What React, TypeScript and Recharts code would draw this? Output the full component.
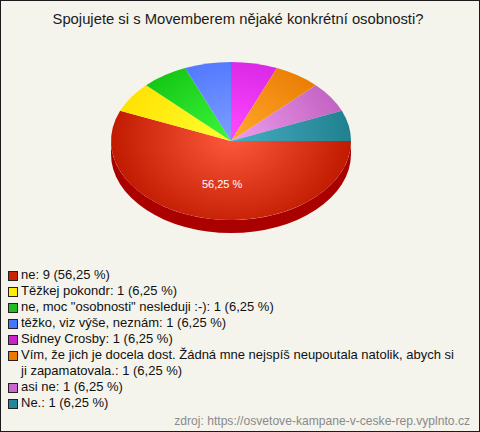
import { PieChart, Pie, Cell, Legend } from 'recharts';

const categories = [
  'ne',
  'Těžkej pokondr',
  'ne, moc "osobnosti" nesleduji :-)',
  'těžko, viz výše, neznám',
  'Sidney Crosby',
  'Vím, že jich je docela dost. Žádná mne nejspíš neupoutala natolik, abych si ji zapamatovala.',
  'asi ne',
  'Ne.',
];
const counts = [9, 1, 1, 1, 1, 1, 1, 1];
const percents = ['56,25', '6,25', '6,25', '6,25', '6,25', '6,25', '6,25', '6,25'];

// light (center) / dark (edge) / legend swatch
const colors = [
  { light: '#ff5a3c', dark: '#c01a00', flat: '#cc2200' },
  { light: '#ffff30', dark: '#ffe000', flat: '#ffee00' },
  { light: '#3af53a', dark: '#10c010', flat: '#22bb22' },
  { light: '#7c9cff', dark: '#4870ff', flat: '#4477ff' },
  { light: '#ff48ff', dark: '#d020e0', flat: '#cc22cc' },
  { light: '#ffa82a', dark: '#e87800', flat: '#ee7700' },
  { light: '#ee9cee', dark: '#c060c0', flat: '#cc66cc' },
  { light: '#48aec4', dark: '#20808f', flat: '#228899' },
];

const data = categories.map((name, i) => ({ name, value: counts[i], pct: percents[i], idx: i }));

const CX = 230;
const CY = 140;
const RX = 120;
const SQUASH = 0.658;
const DEPTH = 13;

const rad = (a: number) => (a * Math.PI) / 180;

function EllipseSector(props: any) {
  const { cx, cy, outerRadius, startAngle, endAngle, payload } = props;
  const i = payload?.idx ?? props.idx ?? 0;
  const c = colors[i];
  const rx = outerRadius;
  const ry = outerRadius * SQUASH;
  const pt = (a: number, dy = 0) =>
    `${cx + rx * Math.cos(rad(a))},${cy - ry * Math.sin(rad(a)) + dy}`;
  const large = Math.abs(endAngle - startAngle) > 180 ? 1 : 0;
  const top = `M${cx},${cy} L${pt(startAngle)} A${rx},${ry} 0 ${large} 1 ${pt(endAngle)} Z`;

  // side wall for the part of the slice in the front half
  const a1 = Math.min(startAngle, 0);
  const a2 = Math.max(endAngle, -180);
  let side = null;
  if (a1 > a2) {
    const d = `M${pt(a1)} A${rx},${ry} 0 0 1 ${pt(a2)} L${pt(a2, DEPTH)} A${rx},${ry} 0 0 0 ${pt(a1, DEPTH)} Z`;
    side = <path d={d} fill="#aa0000" stroke="none" />;
  }
  const gid = `pieGrad${i}`;
  return (
    <g>
      <defs>
        <radialGradient id={gid} gradientUnits="userSpaceOnUse" cx={cx} cy={cy - 6} r={rx}
          gradientTransform={`translate(0 ${cy}) scale(1 ${SQUASH + 0.15}) translate(0 ${-cy})`}>
          <stop offset="0%" stopColor={c.light} />
          <stop offset="100%" stopColor={c.dark} />
        </radialGradient>
      </defs>
      {side}
      <path d={top} fill={`url(#${gid})`} stroke="none" />
    </g>
  );
}

function renderLabel(props: any) {
  const { cx, cy, outerRadius, midAngle, payload } = props;
  if (!payload || payload.value < 3) return null;
  const f = 0.55;
  const x = cx + outerRadius * f * Math.cos(rad(midAngle)) + 4;
  const y = cy - outerRadius * SQUASH * f * Math.sin(rad(midAngle));
  return (
    <text x={x} y={y} fill="#ffffff" fontSize={11} textAnchor="middle" dominantBaseline="central"
      fontFamily="'Liberation Sans', Arial, sans-serif">
      {payload.pct} %
    </text>
  );
}

function renderLegend() {
  return (
    <div style={{ fontFamily: "'Liberation Sans', Arial, sans-serif", fontSize: 13, lineHeight: '16px', color: '#111', textAlign: 'left' }}>
      {data.map((d, i) => (
        <div key={i} style={{ display: 'flex', alignItems: 'flex-start' }}>
          <span style={{
            display: 'inline-block', width: 8, height: 8, marginTop: 4, marginRight: 3, flexShrink: 0,
            background: colors[i].flat, border: '1px solid #222',
          }} />
          <span style={{ width: 440 }}>{`${d.name}: ${d.value} (${d.pct} %)`}</span>
        </div>
      ))}
    </div>
  );
}

export default function App() {
  return (
    <div style={{
      position: 'fixed', left: 0, top: 0, width: 480, height: 432, boxSizing: 'border-box',
      border: '1px solid #1a1a1a', background: '#f4f3ec', overflow: 'hidden',
    }}>
      <div style={{
        position: 'absolute', left: 0, top: 10, width: 474, textAlign: 'center',
        fontFamily: "'Liberation Sans', Arial, sans-serif", fontSize: 14.8, color: '#1a1a1a',
      }}>
        Spojujete si s Movemberem nějaké konkrétní osobnosti?
      </div>
      <PieChart width={478} height={430} margin={{ top: 0, right: 0, bottom: 0, left: 0 }}
        style={{ position: 'absolute', left: 0, top: 0 }}>
        <Pie
          data={data}
          dataKey="value"
          nameKey="name"
          cx={CX}
          cy={CY}
          outerRadius={RX}
          startAngle={0}
          endAngle={-360}
          shape={EllipseSector}
          activeShape={EllipseSector}
          inactiveShape={EllipseSector}
          label={renderLabel}
          labelLine={false}
          isAnimationActive={false}
        >
          {data.map((_, i) => (
            <Cell key={i} fill={colors[i].flat} />
          ))}
        </Pie>
        <Legend
          layout="horizontal"
          verticalAlign="bottom"
          align="left"
          content={renderLegend}
          wrapperStyle={{ left: 7, top: 266, bottom: 'auto', width: 470 }}
        />
      </PieChart>
      <div style={{
        position: 'absolute', right: 9, top: 413,
        fontFamily: "'Liberation Sans', Arial, sans-serif", fontSize: 12.1, color: '#8a8a8a',
      }}>
        zdroj: https://osvetove-kampane-v-ceske-rep.vyplnto.cz
      </div>
    </div>
  );
}
